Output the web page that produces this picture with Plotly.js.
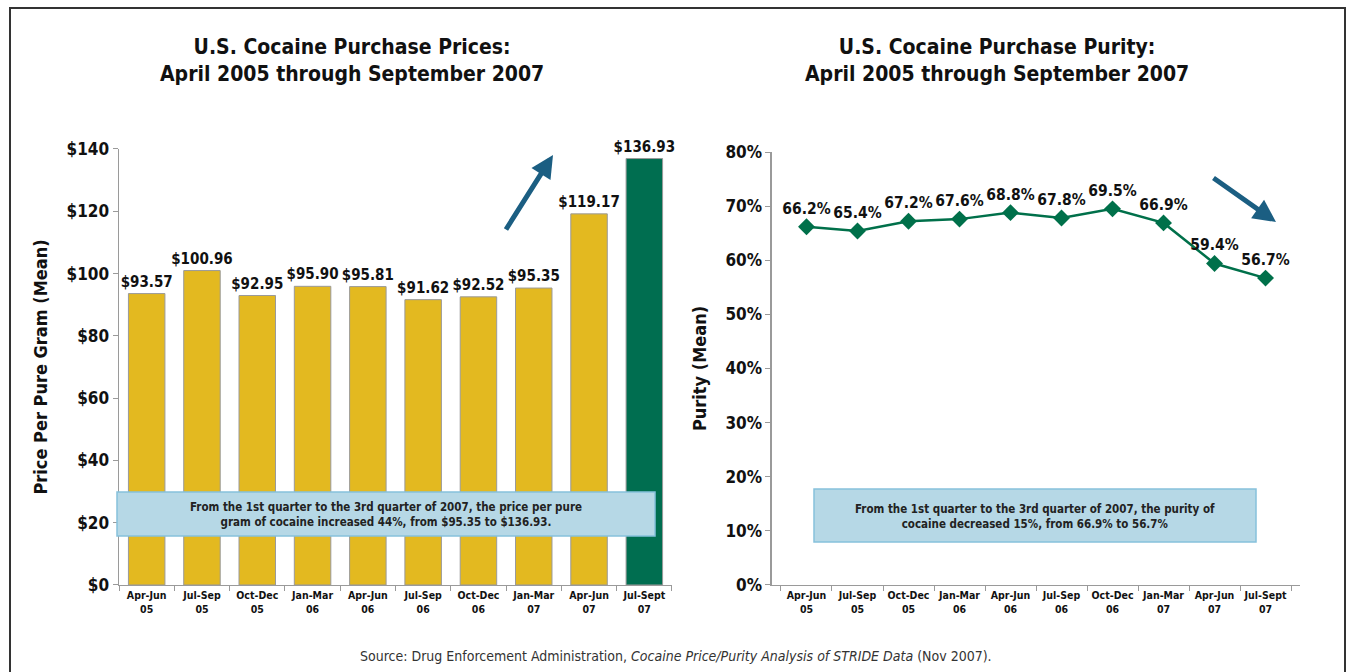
<!DOCTYPE html>
<html><head><meta charset="utf-8">
<script src="https://cdn.plot.ly/plotly-3.0.1.min.js"></script>
<style>html,body{margin:0;padding:0;background:#fff}#chart{width:1351px;height:672px}</style>
</head><body><div id="chart"></div>
<script>
const categories = ["Apr-Jun<br>05","Jul-Sep<br>05","Oct-Dec<br>05","Jan-Mar<br>06","Apr-Jun<br>06","Jul-Sep<br>06","Oct-Dec<br>06","Jan-Mar<br>07","Apr-Jun<br>07","Jul-Sept<br>07"];
const prices = [93.57,100.96,92.95,95.90,95.81,91.62,92.52,95.35,119.17,136.93];
const purity = [0.662,0.654,0.672,0.676,0.688,0.678,0.695,0.669,0.594,0.567];
const priceTicks = [0,20,40,60,80,100,120,140];
const priceTickText = ["$0","$20","$40","$60","$80","$100","$120","$140"];
const purityTicks = [0,0.1,0.2,0.3,0.4,0.5,0.6,0.7,0.8];
const purityTickText = ["0%","10%","20%","30%","40%","50%","60%","70%","80%"];

const F = '"Liberation Sans Narrow","DejaVu Sans Condensed",Arial,sans-serif';
const barColors = prices.map((v,i)=> i===prices.length-1 ? '#006E50' : '#E3B920');

const traces = [
  {type:'bar', x:categories, y:prices, xaxis:'x', yaxis:'y',
   marker:{color:barColors, line:{color:'#9a9a9a', width:1}},
   width:0.66,
   text:prices.map(v=>'$'+v.toFixed(2)), textposition:'outside', cliponaxis:false, constraintext:'none',
   textfont:{family:F, size:15, color:'#111', weight:'bold'}, hoverinfo:'skip'},
  {type:'scatter', mode:'lines+markers+text', x:categories, y:purity, xaxis:'x2', yaxis:'y2',
   line:{color:'#00704A', width:2.5}, marker:{symbol:'diamond', size:13, color:'#00704A'},
   text:purity.map(v=>(v*100).toFixed(1)+'%'), textposition:'top center', cliponaxis:false,
   textfont:{family:F, size:15.5, color:'#111', weight:'bold'}, hoverinfo:'skip'}
];

const axisCommon = {showgrid:false, zeroline:false, showline:true, linecolor:'#9a9a9a', linewidth:1.5,
  ticks:'outside', tickcolor:'#9a9a9a', ticklen:5, fixedrange:true};

const layout = {
  width:1351, height:672, margin:{l:0,r:0,t:0,b:0}, paper_bgcolor:'#fff', plot_bgcolor:'#fff',
  showlegend:false, bargap:0.34,
  font:{family:F, color:'#111'},
  xaxis:Object.assign({}, axisCommon, {domain:[0.0881,0.4974], anchor:'y', type:'category', tickson:'boundaries',
    tickangle:0, tickfont:{family:F, size:10.5, color:'#111', weight:'bold'}}),
  yaxis:Object.assign({}, axisCommon, {domain:[0.1295,0.7783], anchor:'x', range:[0,140],
    tickvals:priceTicks, ticktext:priceTickText, tickfont:{family:F, size:17, color:'#111', weight:'bold'},
    title:{text:'Price Per Pure Gram (Mean)', font:{family:F, size:18, color:'#111', weight:'bold'}, standoff:14}}),
  xaxis2:Object.assign({}, axisCommon, {domain:[0.5714,0.9623], anchor:'y2', type:'category', tickson:'boundaries',
    tickangle:0, tickfont:{family:F, size:10.5, color:'#111', weight:'bold'}}),
  yaxis2:Object.assign({}, axisCommon, {domain:[0.1295,0.7738], anchor:'x2', range:[0,0.8],
    tickvals:purityTicks, ticktext:purityTickText, tickfont:{family:F, size:17, color:'#111', weight:'bold'},
    title:{text:'Purity (Mean)', font:{family:F, size:18, color:'#111', weight:'bold'}, standoff:14}}),
  shapes:[
    {type:'rect', xref:'paper', yref:'paper', x0:10/1351, x1:1345/1351, y0:-0.05, y1:1-8/672,
     line:{color:'#333', width:2}, fillcolor:'rgba(0,0,0,0)', layer:'below'},
    {type:'rect', xref:'paper', yref:'paper', x0:117/1351, x1:655/1351, y0:1-536/672, y1:1-492/672,
     line:{color:'#86C1DC', width:1.5}, fillcolor:'#B6D8E6', layer:'above'},
    {type:'rect', xref:'paper', yref:'paper', x0:814/1351, x1:1256/1351, y0:1-542/672, y1:1-489/672,
     line:{color:'#86C1DC', width:1.5}, fillcolor:'#B6D8E6', layer:'above'}
  ],
  annotations:[
    {xref:'paper', yref:'paper', x:352/1351, y:1-60/672, xanchor:'center', yanchor:'middle', showarrow:false,
     text:'U.S. Cocaine Purchase Prices:<br>April 2005 through September 2007',
     font:{family:F, size:21, color:'#111', weight:'bold'}, align:'center'},
    {xref:'paper', yref:'paper', x:997/1351, y:1-60/672, xanchor:'center', yanchor:'middle', showarrow:false,
     text:'U.S. Cocaine Purchase Purity:<br>April 2005 through September 2007',
     font:{family:F, size:21, color:'#111', weight:'bold'}, align:'center'},
    {xref:'paper', yref:'paper', x:386/1351, y:1-514/672, xanchor:'center', yanchor:'middle', showarrow:false,
     text:'From the 1st quarter to the 3rd quarter of 2007, the price per pure<br>gram of cocaine increased 44%, from $95.35 to $136.93.',
     font:{family:F, size:11.5, color:'#222', weight:'bold'}, align:'center'},
    {xref:'paper', yref:'paper', x:1035/1351, y:1-516/672, xanchor:'center', yanchor:'middle', showarrow:false,
     text:'From the 1st quarter to the 3rd quarter of 2007, the purity of<br>cocaine decreased 15%, from 66.9% to 56.7%',
     font:{family:F, size:11.5, color:'#222', weight:'bold'}, align:'center'},
    {xref:'paper', yref:'paper', x:553/1351, y:1-155/672, ax:-48, ay:76, text:'', showarrow:true,
     arrowhead:2, arrowsize:0.9, arrowwidth:5, arrowcolor:'#1B5E82'},
    {xref:'paper', yref:'paper', x:1276/1351, y:1-222/672, ax:-64, ay:-45, text:'', showarrow:true,
     arrowhead:2, arrowsize:0.9, arrowwidth:5, arrowcolor:'#1B5E82'},
    {xref:'paper', yref:'paper', x:676/1351, y:1-656/672, xanchor:'center', yanchor:'middle', showarrow:false,
     text:'Source: Drug Enforcement Administration, <i>Cocaine Price/Purity Analysis of STRIDE Data</i> (Nov 2007).',
     font:{family:F, size:14, color:'#333'}, align:'center'}
  ]
};
Plotly.newPlot('chart', traces, layout, {displayModeBar:false, staticPlot:true});
</script></body></html>
